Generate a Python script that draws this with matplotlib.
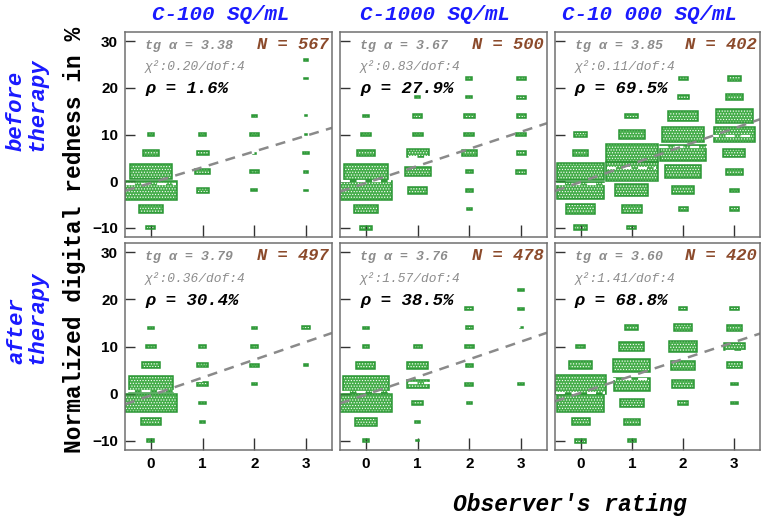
import numpy as np
import matplotlib
matplotlib.use("Agg")
import matplotlib.pyplot as plt
from matplotlib.patches import Rectangle

# ---- data ---------------------------------------------------------------
ratings = [0, 1, 2, 3]
y_centers = [-10, -6, -2, 2, 6, 10, 14, 18, 22, 26, 30]
bin_w = 1.0
bin_h = 4.0

concentrations = ["C-100 SQ/mL", "C-1000 SQ/mL", "C-10 000 SQ/mL"]
phases = ["before\ntherapy", "after\ntherapy"]

# counts per observer rating (rows) and redness bin (columns, see y_centers)
counts_before_100 = [
    [20, 53, 115, 93, 35, 13, 0, 0, 0, 0, 0],
    [0, 0, 27, 32, 27, 17, 0, 0, 0, 0, 0],
    [0, 0, 13, 20, 7, 21, 12, 0, 0, 0, 0],
    [0, 0, 9, 9, 14, 6, 6, 0, 9, 9, 0],
]
counts_before_1000 = [
    [15, 31, 68, 57, 24, 14, 7, 0, 0, 0, 0],
    [0, 0, 25, 34, 29, 13, 12, 7, 0, 0, 0],
    [0, 7, 10, 10, 20, 13, 14, 8, 8, 0, 0],
    [0, 0, 0, 13, 12, 13, 12, 12, 12, 0, 0],
]
counts_before_10000 = [
    [7, 16, 26, 26, 8, 7, 0, 0, 0, 0, 0],
    [5, 11, 18, 28, 28, 14, 7, 0, 0, 0, 0],
    [0, 5, 12, 20, 25, 23, 16, 6, 5, 0, 0],
    [0, 5, 5, 9, 12, 22, 20, 9, 7, 0, 0],
]
counts_after_100 = [
    [15, 41, 110, 93, 37, 21, 12, 0, 0, 0, 0],
    [0, 10, 16, 23, 23, 14, 0, 0, 0, 0, 0],
    [0, 0, 0, 11, 20, 14, 11, 0, 0, 0, 0],
    [0, 0, 0, 0, 10, 0, 16, 0, 0, 0, 0],
]
counts_after_1000 = [
    [10, 35, 85, 76, 31, 11, 9, 0, 0, 0, 0],
    [5, 9, 18, 36, 34, 13, 0, 0, 0, 0, 0],
    [0, 0, 9, 13, 12, 14, 12, 13, 0, 0, 0],
    [0, 0, 0, 9, 0, 0, 5, 10, 9, 0, 0],
]
counts_after_10000 = [
    [9, 15, 40, 43, 19, 7, 0, 0, 0, 0, 0],
    [7, 13, 20, 30, 31, 21, 11, 0, 0, 0, 0],
    [0, 0, 8, 18, 20, 23, 15, 7, 0, 0, 0],
    [0, 0, 6, 6, 13, 18, 13, 7, 0, 0, 0],
]

slopes = [3.38, 3.67, 3.85, 3.79, 3.76, 3.60]
intercepts = [-0.40, -0.42, -0.20, -0.39, -0.23, 0.15]
chi2 = [0.20, 0.83, 0.11, 0.36, 1.57, 1.41]
dof = [4, 4, 4, 4, 4, 4]
rho = [1.6, 27.9, 69.5, 30.4, 38.5, 68.8]
n_events = [567, 500, 402, 497, 478, 420]

y_ticks = [-10, 0, 10, 20, 30]
y_lim = (-12, 32)
x_lim = (-0.5, 3.5)

panels = [counts_before_100, counts_before_1000, counts_before_10000,
          counts_after_100, counts_after_1000, counts_after_10000]

# ---- style --------------------------------------------------------------
MONO = "Liberation Mono"
SANS = "Liberation Sans"
BOX_FACE = "#45ad4a"
BOX_EDGE = "#2a9634"
plt.rcParams["hatch.linewidth"] = 0.5
plt.rcParams["hatch.color"] = "white"

W, H = 761, 518
fig = plt.figure(figsize=(W / 100, H / 100), dpi=100)

col_px = [(125, 332), (340, 547), (555, 760)]
row_px = [(32, 237), (243, 450)]


def px_axes(x0, x1, y0, y1):
    return fig.add_axes([x0 / W, 1 - y1 / H, (x1 - x0) / W, (y1 - y0) / H])


for idx, counts in enumerate(panels):
    r, c = divmod(idx, 3)
    ax = px_axes(col_px[c][0], col_px[c][1], row_px[r][0], row_px[r][1])
    cm = np.asarray(counts, dtype=float)
    cmax = cm.max()
    yc = np.asarray(y_centers, dtype=float)

    for i, xr in enumerate(ratings):
        for j, yv in enumerate(y_centers):
            n = cm[i, j]
            if n <= 0:
                continue
            f = n / cmax
            w, h = f * bin_w, f * bin_h
            ax.add_patch(Rectangle((xr - w / 2, yv - h / 2), w, h,
                                   facecolor=BOX_FACE, edgecolor="white",
                                   hatch="......", linewidth=0, zorder=1.5))
            ax.add_patch(Rectangle((xr - w / 2, yv - h / 2), w, h,
                                   facecolor="none", edgecolor=BOX_EDGE,
                                   linewidth=1.1, zorder=1.6))
        # column mean of the redness distribution
        tot = cm[i].sum()
        if tot > 0:
            mean = (cm[i] * yc).sum() / tot
            ax.plot([xr - 0.48, xr + 0.48], [mean, mean], color="white",
                    lw=1.6, dashes=(4, 3), zorder=1.7)

    # linear fit
    xs = np.array(x_lim)
    ax.plot(xs, intercepts[idx] + slopes[idx] * xs, color="#8a8a8a",
            lw=1.8, dashes=(4, 3), zorder=1.8)

    ax.set_xlim(*x_lim)
    ax.set_ylim(*y_lim)
    ax.set_xticks(ratings)
    ax.set_yticks(y_ticks)
    ax.tick_params(axis="both", direction="in", color="#333333",
                   width=1.0, labelsize=11, pad=5)
    ax.tick_params(axis="y", length=7)
    ax.tick_params(axis="x", length=9)
    for lab in ax.get_xticklabels() + ax.get_yticklabels():
        lab.set_fontfamily(SANS)
        lab.set_fontweight("bold")
    if c != 0:
        ax.set_yticklabels([])
    if r != 1:
        ax.set_xticklabels([])
    for sp in ax.spines.values():
        sp.set_color("#707070")
        sp.set_linewidth(1.1)

    ax.text(0.097, 0.933, f"tg α = {slopes[idx]:.2f}", transform=ax.transAxes,
            family=MONO, style="italic", fontweight="bold", fontsize=9.5,
            color="#8c8c8c", ha="left", va="center", zorder=6)
    ax.text(0.097, 0.83, f"χ²:{chi2[idx]:.2f}/dof:{dof[idx]}",
            transform=ax.transAxes, family=MONO, style="italic",
            fontsize=9.3, color="#8c8c8c", ha="left", va="center", zorder=6)
    ax.text(0.097, 0.722, f"ρ = {rho[idx]:.1f}%", transform=ax.transAxes,
            family=MONO, style="italic", fontweight="bold", fontsize=12.5,
            color="black", ha="left", va="center", zorder=6)
    ax.text(0.985, 0.94, f"N = {n_events[idx]}", transform=ax.transAxes,
            family=MONO, style="italic", fontweight="bold", fontsize=12.3,
            color="#8b4a2b", ha="right", va="center", zorder=6)

# column titles
for c, title in enumerate(concentrations):
    xc = (col_px[c][0] + col_px[c][1]) / 2 - 8
    fig.text(xc / W, 1 - 14 / H, title, family=MONO, style="italic",
             fontweight="bold", fontsize=15, color="#1a1aff",
             ha="center", va="center")

# row labels
for r, lab in enumerate(phases):
    yc_px = [104, 317][r]
    fig.text(27 / W, 1 - yc_px / H, lab, rotation=90, family=MONO,
             style="italic", fontweight="bold", fontsize=16, color="#1a1aff",
             ha="center", va="center", multialignment="left",
             linespacing=1.0)

fig.text(75 / W, 1 - 240 / H, "Normalized digital redness in %",
         rotation=90, family=MONO, fontweight="bold", fontsize=16.5,
         color="black", ha="center", va="center")
fig.text(570 / W, 1 - 505 / H, "Observer's rating", family=MONO,
         style="italic", fontweight="bold", fontsize=16.5, color="black",
         ha="center", va="center")

fig.savefig("out.png", dpi=100)
